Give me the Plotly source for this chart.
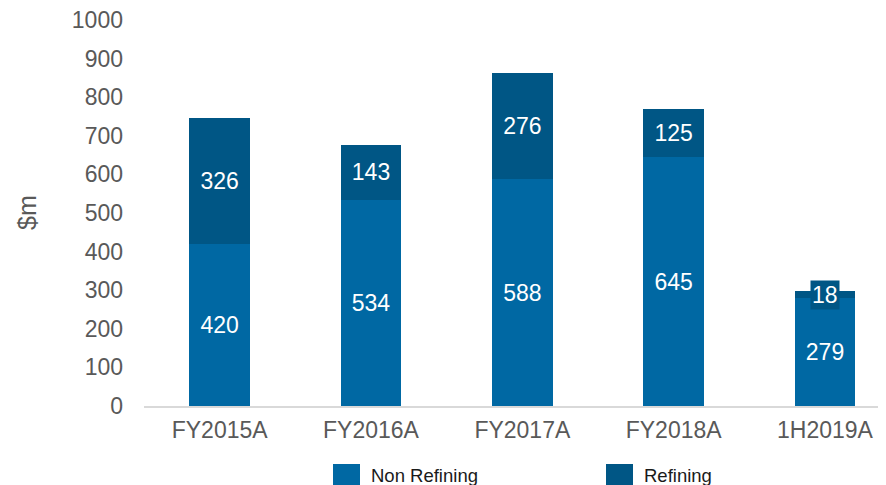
import plotly.graph_objs as go

# values
periods = ["FY2015A", "FY2016A", "FY2017A", "FY2018A", "1H2019A"]
non_refining = [420, 534, 588, 645, 279]
refining = [326, 143, 276, 125, 18]

non_ref_color = "#0068A3"
ref_color = "#005685"
font_family = "Liberation Sans, Arial, sans-serif"

# page has an 8px body margin, so the figure is a bit smaller than the window
W, H = 878, 477
ML, MT, MB = 136, 12, 79
plot_w = W - ML
plot_h = H - MT - MB

# the small 18 segment gets its label as a boxed annotation instead
ref_text = [str(v) for v in refining]
ref_text[-1] = ""

fig = go.Figure()

fig.add_trace(go.Bar(x=periods, y=non_refining, name="Non Refining",
                     marker=dict(color=non_ref_color, line=dict(width=0)),
                     text=[str(v) for v in non_refining],
                     textposition="inside", insidetextanchor="middle",
                     textfont=dict(color="white", size=23),
                     width=0.4, showlegend=False))

fig.add_trace(go.Bar(x=periods, y=refining, name="Refining",
                     marker=dict(color=ref_color, line=dict(width=0)),
                     text=ref_text,
                     textposition="inside", insidetextanchor="middle",
                     textfont=dict(color="white", size=23),
                     width=0.4, showlegend=False))

# label for the thin refining segment
fig.add_annotation(x=periods[-1], y=non_refining[-1] + refining[-1] / 2,
                   text=str(refining[-1]), showarrow=False,
                   font=dict(color="white", size=23, family=font_family),
                   bgcolor=ref_color, borderpad=1)

# legend drawn by hand so the swatches match the big squares
# positions below are in page pixels of the 886x485 window
base_y = MT + plot_h + 8  # baseline in page pixels


def px_x(px):
    return (px - 8 - ML) / plot_w


def px_y(py):
    return (base_y - py) / plot_h


legend_items = [("Non Refining", non_ref_color, 333), ("Refining", ref_color, 606)]
for label, color, px in legend_items:
    fig.add_shape(type="rect", xref="paper", yref="paper",
                  x0=px_x(px), x1=px_x(px + 27),
                  y0=px_y(490), y1=px_y(464),
                  fillcolor=color, line=dict(width=0))
    fig.add_annotation(xref="paper", yref="paper",
                       x=px_x(px + 36), y=px_y(475),
                       xanchor="left", yanchor="middle", text=label,
                       showarrow=False,
                       font=dict(color="#1a1a1a", size=18.5, family=font_family))

fig.update_layout(
    barmode="stack",
    width=W, height=H,
    margin=dict(l=ML, r=0, t=MT, b=MB, autoexpand=False),
    plot_bgcolor="white", paper_bgcolor="white",
    font=dict(family=font_family, size=23, color="#595959"),
    xaxis=dict(range=[-0.5, 4.403], showgrid=False, showline=True,
               linecolor="#D9D9D9", linewidth=1.5, ticks="",
               ticklabelstandoff=3,
               tickfont=dict(size=23, color="#595959")),
    yaxis=dict(range=[0, 1000], dtick=100, showgrid=False, zeroline=False,
               ticks="", ticklabelstandoff=20, ticklabeloverflow="allow",
               tickfont=dict(size=23, color="#595959")),
)

# y axis title as an annotation so it sits where the reference has it
fig.add_annotation(xref="paper", yref="paper", x=px_x(27), y=px_y(213),
                   text="$m", textangle=-90, showarrow=False,
                   xanchor="center", yanchor="middle",
                   font=dict(size=25, color="#595959", family=font_family))

fig.write_html("out.html")
